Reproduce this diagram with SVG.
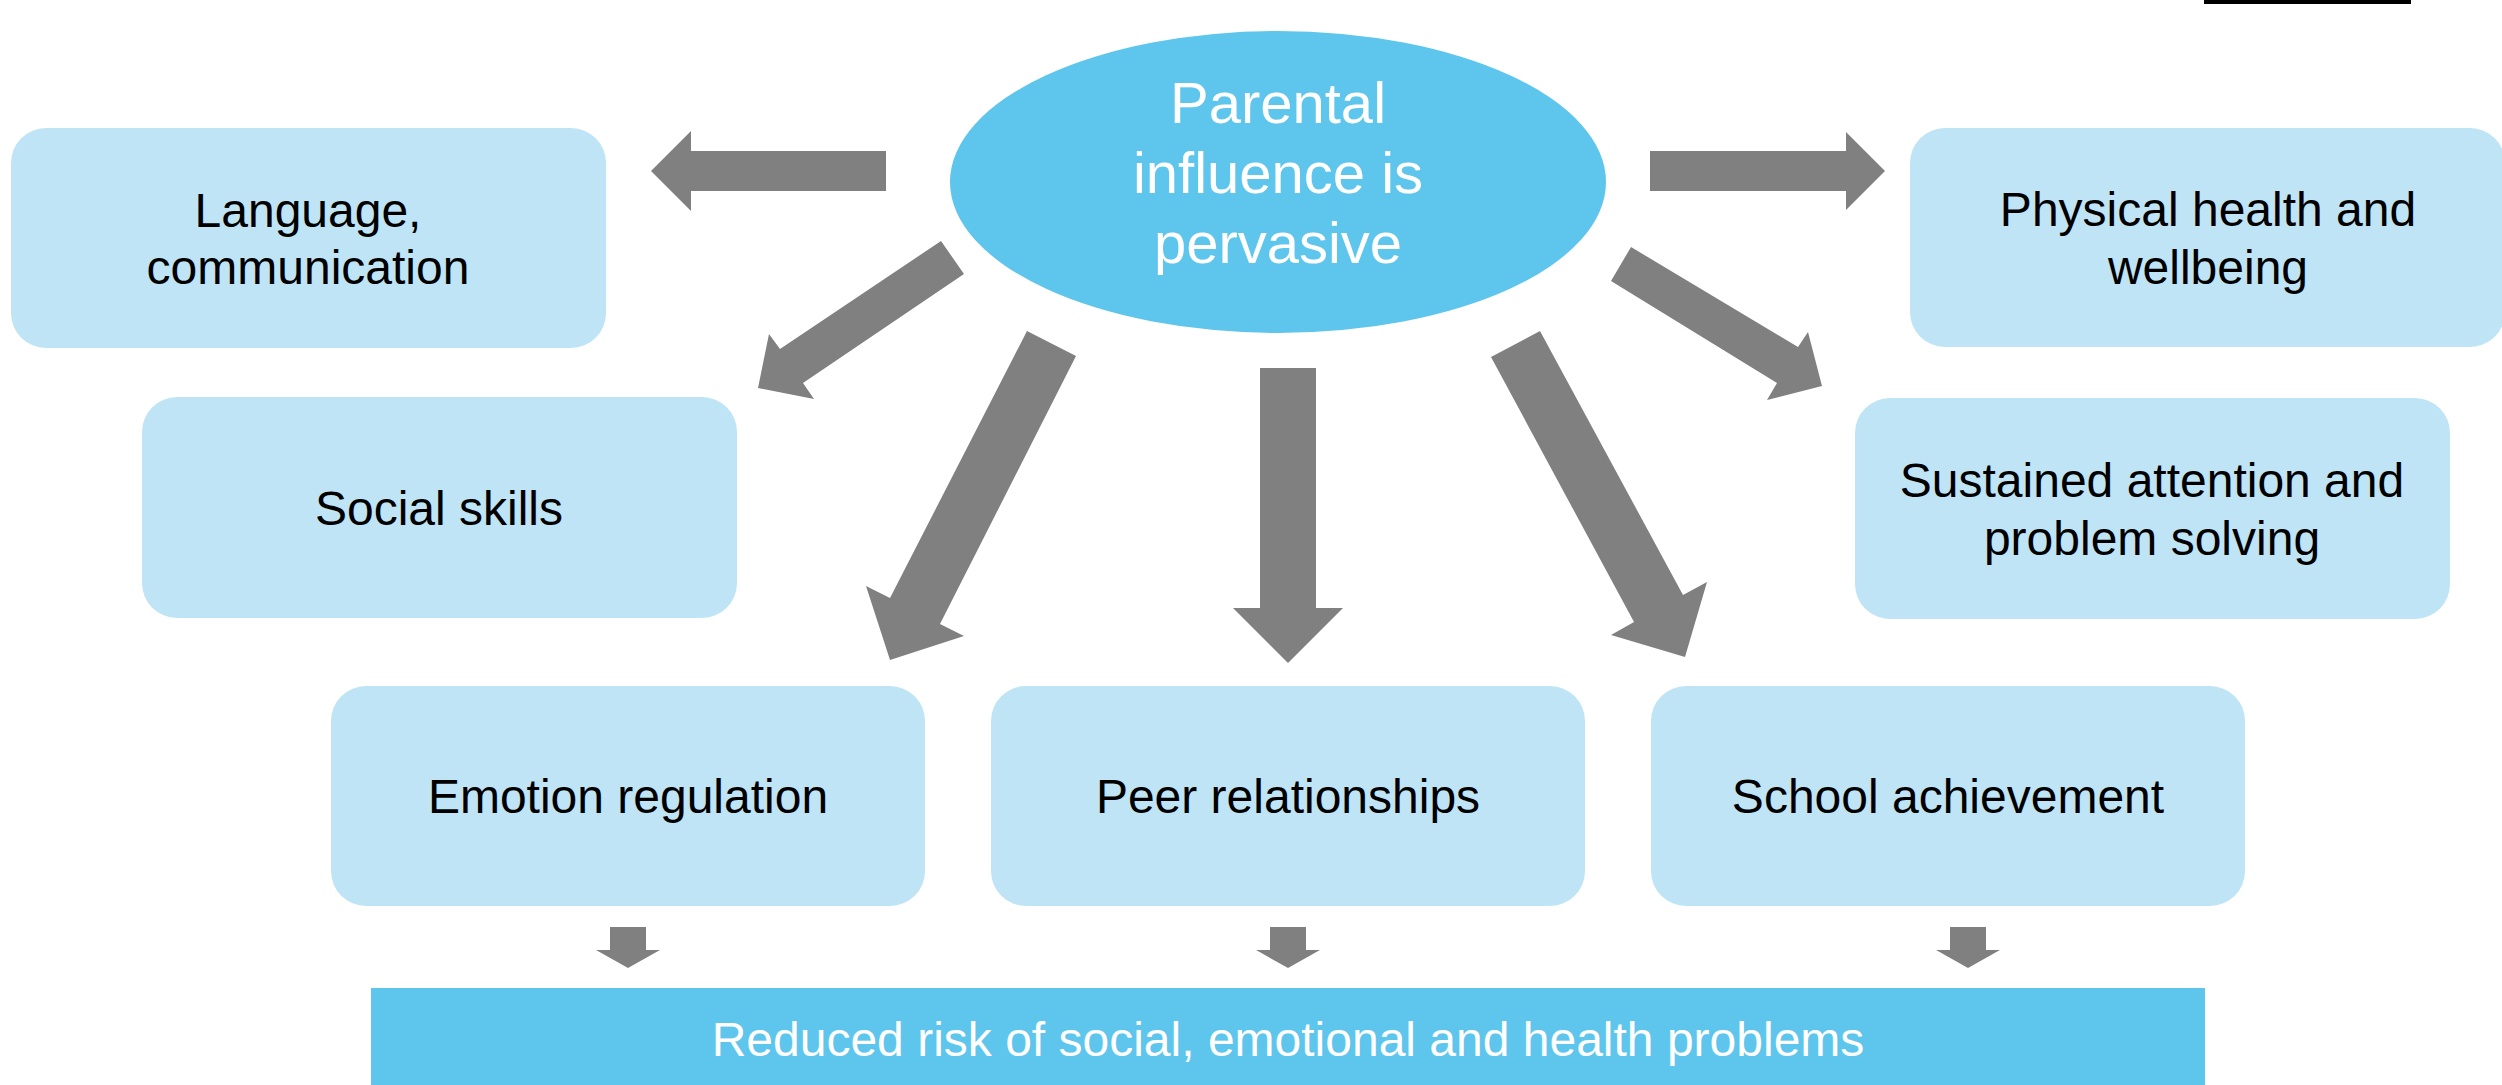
<svg xmlns="http://www.w3.org/2000/svg" width="2502" height="1085" viewBox="0 0 2502 1085">
<style>
.box{fill:#BEE4F6}
.main{fill:#5EC5EC}
.arr{fill:#808080}
.t{font-family:"Liberation Sans",Arial,sans-serif;font-size:48px;fill:#000;text-anchor:middle}
.w{font-family:"Liberation Sans",Arial,sans-serif;fill:#fff;text-anchor:middle}
</style>
<rect width="2502" height="1085" fill="#fff"/>
<rect x="2204" y="0" width="207" height="4" fill="#000"/>
<g id="center">
<ellipse class="main" cx="1278" cy="182" rx="328" ry="151"/>
<text class="w" font-size="58" x="1278" y="123">Parental</text>
<text class="w" font-size="58" x="1278" y="193">influence is</text>
<text class="w" font-size="58" x="1278" y="263">pervasive</text>
</g>
<g id="language">
<rect class="box" x="11" y="128" width="595" height="220" rx="35"/>
<text class="t" x="308" y="227">Language,</text>
<text class="t" x="308" y="284">communication</text>
</g>
<g id="social">
<rect class="box" x="142" y="397" width="595" height="221" rx="35"/>
<text class="t" x="439" y="525">Social skills</text>
</g>
<g id="physical">
<rect class="box" x="1910" y="128" width="595" height="219" rx="35"/>
<text class="t" x="2208" y="226">Physical health and</text>
<text class="t" x="2208" y="284">wellbeing</text>
</g>
<g id="attention">
<rect class="box" x="1855" y="398" width="595" height="221" rx="35"/>
<text class="t" x="2152" y="497">Sustained attention and</text>
<text class="t" x="2152" y="555">problem solving</text>
</g>
<g id="emotion">
<rect class="box" x="331" y="686" width="594" height="220" rx="35"/>
<text class="t" x="628" y="813">Emotion regulation</text>
</g>
<g id="peer">
<rect class="box" x="991" y="686" width="594" height="220" rx="35"/>
<text class="t" x="1288" y="813">Peer relationships</text>
</g>
<g id="school">
<rect class="box" x="1651" y="686" width="594" height="220" rx="35"/>
<text class="t" x="1948" y="813">School achievement</text>
</g>
<g id="outcome">
<rect class="main" x="371" y="988" width="1834" height="97"/>
<text class="w" font-size="48" x="1288" y="1056">Reduced risk of social, emotional and health problems</text>
</g>
<g id="connectors">
<polygon class="arr" points="886,151 691,151 691,131 651,171 691,211 691,191 886,191"/>
<polygon class="arr" points="1650,151 1846,151 1846,132 1885,171 1846,210 1846,191 1650,191"/>
<polygon class="arr" points="941,241 780,349 769,334 758,388 814,399 803,383 964,274"/>
<polygon class="arr" points="1027,331 890,598 866,586 890,660 964,636 940,624 1076,356"/>
<polygon class="arr" points="1260,368 1316,368 1316,608 1343,608 1288,663 1233,608 1260,608"/>
<polygon class="arr" points="1540,331 1683,595 1707,582 1685,657 1611,635 1634,622 1491,357"/>
<polygon class="arr" points="1631,247 1798,347 1808,332 1822,386 1767,400 1777,383 1611,281"/>
<polygon class="arr" points="610,927 646,927 646,950 660,950 628,968 596,950 610,950"/>
<polygon class="arr" points="1270,927 1306,927 1306,950 1320,950 1288,968 1256,950 1270,950"/>
<polygon class="arr" points="1950,927 1986,927 1986,950 2000,950 1968,968 1936,950 1950,950"/>
</g>
</svg>
